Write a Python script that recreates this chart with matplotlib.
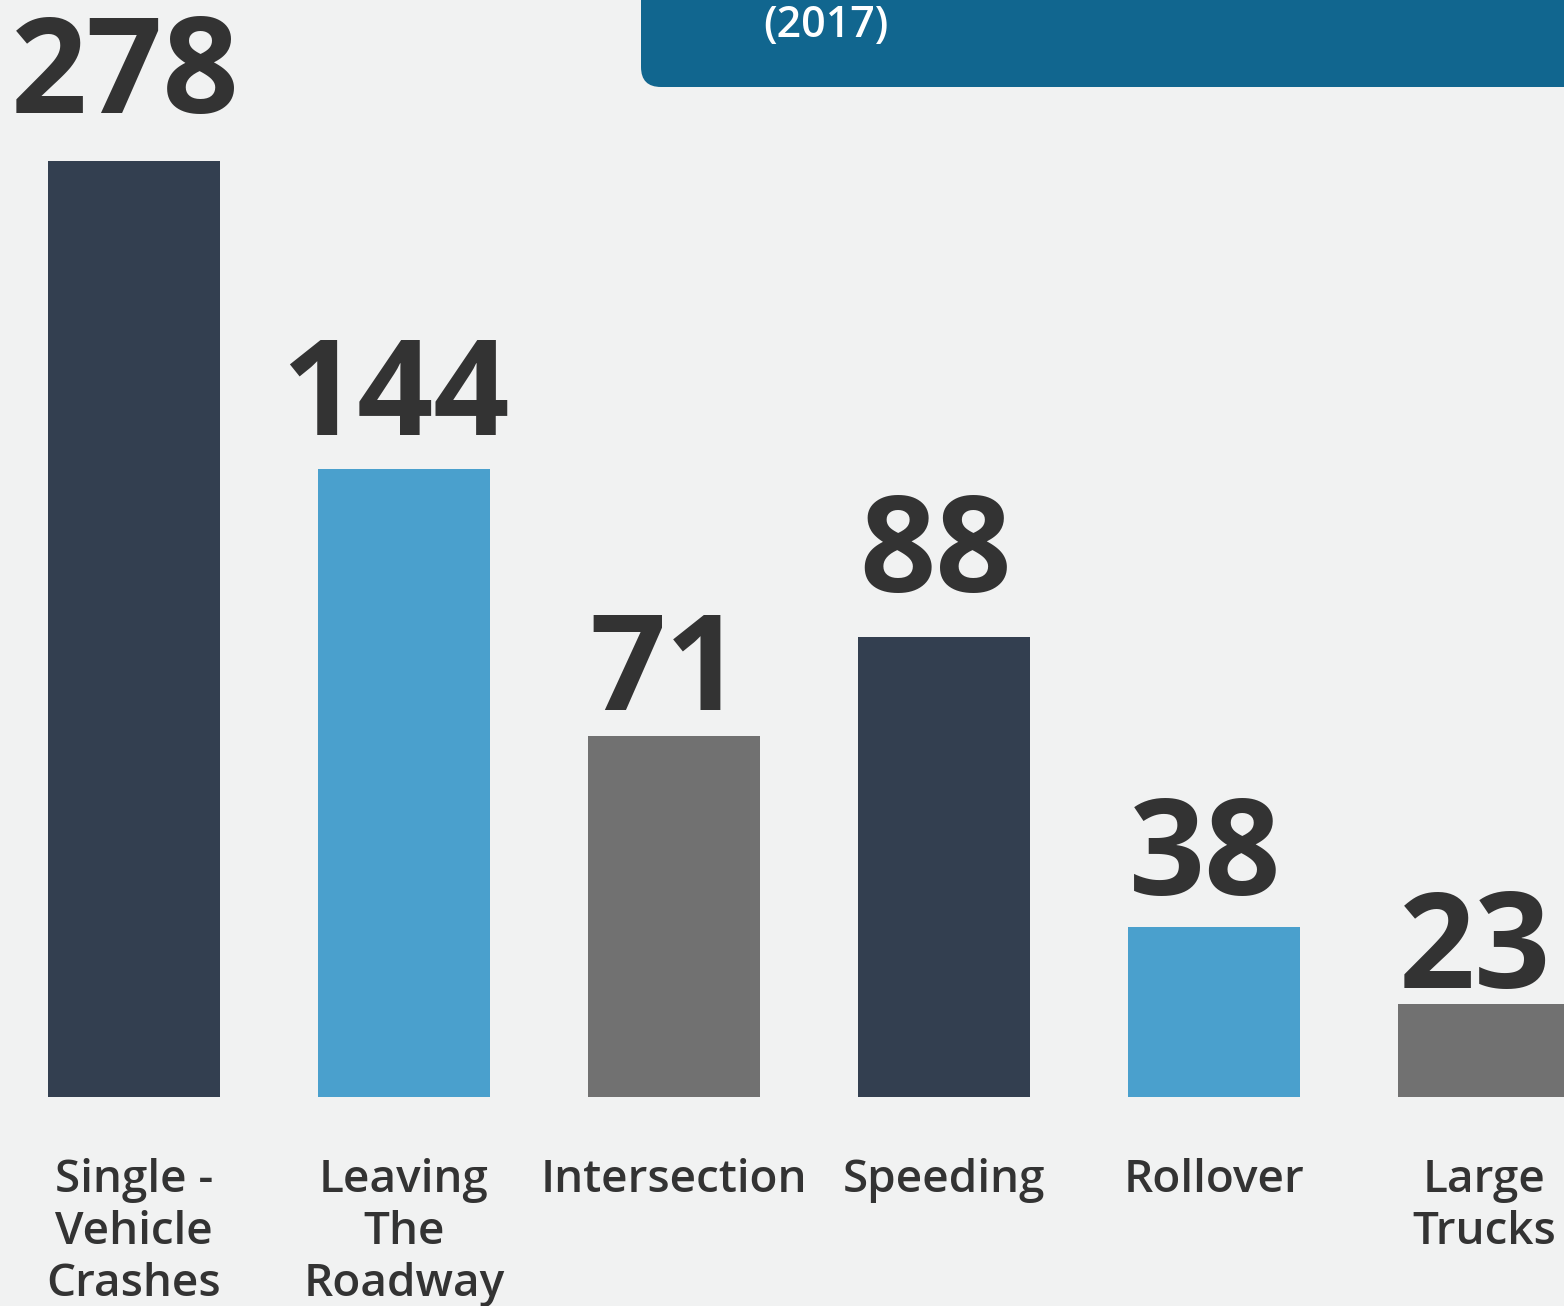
import matplotlib.pyplot as plt
from matplotlib.patches import FancyBboxPatch

# Data
categories = ["Single -\nVehicle\nCrashes", "Leaving\nThe\nRoadway", "Intersection",
              "Speeding", "Rollover", "Large\nTrucks"]
values = [278, 144, 71, 88, 38, 23]  # numbers printed above the bars
bar_heights = [278, 186.5, 107.2, 136.6, 50.5, 27.6]  # drawn heights (infographic is not to scale)
year_label = "(2017)"

# Style / layout
colors = ["#333f50", "#4aa0cd", "#717171", "#333f50", "#4aa0cd", "#717171"]
bg = "#f1f2f2"
ink = "#333333"
banner_color = "#11668f"
W, H = 1564, 1306
px_per_unit = 936 / 278
base_px = 1097  # bar baseline, px from top
label_gap_px = [48, 34, 26, 45, 32, 16]

plt.rcParams['font.family'] = ['Open Sans', 'DejaVu Sans']

fig = plt.figure(figsize=(W / 100, H / 100), dpi=100, facecolor=bg)

# main bar axes: 1 x unit = 270 px, first bar centred at x=134 px
ax = fig.add_axes([0, (H - base_px) / H, 1, base_px / H])
ax.set_facecolor(bg)
ax.set_xlim(-134 / 270, (W - 134) / 270)
ax.set_ylim(0, base_px / px_per_unit)
ax.axis("off")

x = list(range(len(values)))
ax.bar(x, bar_heights, width=172 / 270, color=colors, align="center")

for i, (v, h) in enumerate(zip(values, bar_heights)):
    ax.text(i - 0.032, h + label_gap_px[i] / px_per_unit, str(v), ha="center", va="baseline",
            fontsize=96, fontweight="bold", color=ink)
    ax.text(i, (base_px - 1158) / px_per_unit, categories[i], ha="center", va="top",
            fontsize=33, fontweight="semibold", color=ink, linespacing=1.21, clip_on=False)

# overlay for the banner (pixel coordinates)
ov = fig.add_axes([0, 0, 1, 1], facecolor="none")
ov.set_xlim(0, W)
ov.set_ylim(H, 0)
ov.axis("off")
ov.add_patch(FancyBboxPatch((641, -60), 1000, 147, boxstyle="round,pad=0,rounding_size=20",
                            facecolor=banner_color, edgecolor="none"))
ov.text(826, 26, year_label, ha="center", va="center", fontsize=31,
        fontweight="semibold", color="white")

fig.savefig("out.png", dpi=100, facecolor=bg)
